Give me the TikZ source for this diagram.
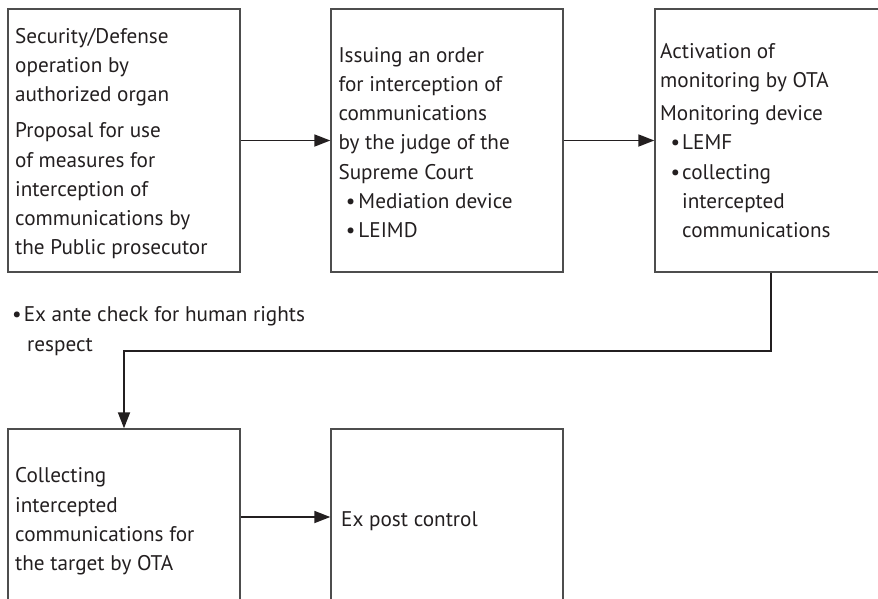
\documentclass[tikz,border=0pt]{standalone}
\usepackage{fontspec}
\setmainfont{PT Sans}
\usetikzlibrary{arrows.meta,calc}
\definecolor{boxgray}{HTML}{4D4D4D}
\definecolor{linecol}{HTML}{231F20}
\begin{document}
\begin{tikzpicture}[x=1pt,y=-1pt,
  box/.style={draw=boxgray,line width=1.4pt,rectangle,inner sep=0pt,fill=none},
  txt/.style={anchor=base west,inner sep=0pt,align=left,text=linecol,
    font=\fontsize{21.2}{29.2}\selectfont},
  arr/.style={draw=linecol,line width=1.8pt,-{Triangle[length=16pt,width=12pt]}},
  conn/.style={draw=linecol,line width=1.8pt}]
\useasboundingbox (0,0) rectangle (878,598);
\clip (0,0) rectangle (878,598);
% boxes
\node[box,minimum width=232pt,minimum height=263pt] (b1) at (124,140.5) {};
\node[box,minimum width=232pt,minimum height=263pt] (b2) at (447,140.5) {};
\node[box,minimum width=245pt,minimum height=263pt] (b3) at (777.5,140.5) {};
\node[box,minimum width=232pt,minimum height=176pt] (b4) at (124,517) {};
\node[box,minimum width=232pt,minimum height=176pt] (b5) at (447,517) {};
% texts (anchor is the baseline of the last line)
\node[txt] (t1) at (15,254.7) {Security/Defense\\operation by\\authorized organ\\[7pt]Proposal for use\\of measures for\\interception of\\communications by\\the Public prosecutor};
\node[txt] (t2) at (338.3,237.5) {Issuing an order\\for interception of\\communications\\by the judge of the\\Supreme Court\\\hspace*{20pt}\llap{\textbullet\hspace{3pt}}Mediation device\\\hspace*{20pt}\llap{\textbullet\hspace{3pt}}LEIMD};
\node[txt] (t3) at (660,237.5) {Activation of\\monitoring by OTA\\[4pt]Monitoring device\\\hspace*{22pt}\llap{\textbullet\hspace{2pt}}LEMF\\\hspace*{22pt}\llap{\textbullet\hspace{2pt}}collecting\\\hspace*{22pt}intercepted\\\hspace*{22pt}communications};
\node[txt] (t4) at (15,570.5) {Collecting\\intercepted\\communications for\\the target by OTA};
\node[txt] (t5) at (341,526.7) {Ex post control};
\node[txt] (t6) at (12,351) {\textbullet\hspace{2pt}Ex ante check for human rights\\\hspace*{15pt}respect};
% connectors
\coordinate (turn) at (771,351);
\draw[arr] (b1.east) -- (b2.west);
\draw[arr] (b2.east) -- (b3.west);
\draw[arr] (b3.south -| turn) -- (turn) -| (b4.north);
\draw[arr] (b4.east) -- (b5.west);
\end{tikzpicture}
\end{document}
